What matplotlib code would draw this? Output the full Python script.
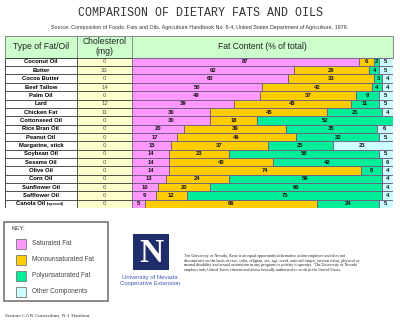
import numpy as np
import matplotlib.pyplot as plt
from matplotlib.patches import Rectangle

fats = ["Coconut Oil", "Butter", "Cocoa Butter", "Beef Tallow", "Palm Oil", "Lard",
        "Chicken Fat", "Cottonseed Oil", "Rice Bran Oil", "Peanut Oil", "Margarine, stick",
        "Soybean Oil", "Sesame Oil", "Olive Oil", "Corn Oil", "Sunflower Oil",
        "Safflower Oil", "Canola Oil"]
cholesterol = [0, 33, 0, 14, 0, 12, 11, 0, 0, 0, 0, 0, 0, 0, 0, 0, 0, 0]
saturated = [87, 62, 60, 50, 49, 39, 30, 30, 20, 17, 15, 14, 14, 14, 13, 10, 9, 5]
mono = [6, 29, 33, 42, 37, 45, 45, 18, 39, 46, 37, 23, 40, 74, 24, 20, 12, 66]
poly = [2, 4, 3, 4, 9, 11, 21, 52, 35, 32, 25, 58, 42, 8, 59, 66, 75, 24]
other = [5, 5, 4, 4, 5, 5, 4, 0, 6, 5, 23, 5, 6, 4, 4, 4, 4, 5]

series = [saturated, mono, poly, other]
names = ["Saturated Fat", "Monounsaturated Fat", "Polyunsaturated Fat", "Other Components"]
colors = ["#ff99ff", "#ffcc00", "#00ee99", "#ccffff"]

W, H = 400, 323
fig = plt.figure(figsize=(4, 3.23), dpi=100)

# overlay in pixel coords
ov = fig.add_axes([0, 0, 1, 1])
ov.set_xlim(0, W)
ov.set_ylim(H, 0)
ov.axis("off")

x0, xc1, xc2, x1 = 5, 76.7, 132.3, 392.5
hy0, ty0, ty1 = 36, 57.8, 208.1

ov.text(200, 13, "COMPARISON OF DIETARY FATS AND OILS", family="Liberation Mono",
        fontsize=8.4, color="#333333", ha="center", va="center")
ov.text(200, 27, "Source: Composition of Foods: Fats and Oils, Agriculture Handbook No. 8-4, "
        "United States Department of Agriculture, 1979.", fontsize=3.9, color="#333333",
        ha="center", va="center", family="Liberation Sans")

# header
ov.add_patch(Rectangle((x0, hy0), x1 - x0, ty0 - hy0, facecolor="#ccffcc",
                       edgecolor="#888888", lw=0.7, zorder=1))
for xv in (xc1, xc2):
    ov.plot([xv, xv], [hy0, ty0], color="#888888", lw=0.7)
hfont = dict(family="Liberation Sans", fontsize=6.2, color="#222222", va="center", ha="center")
ov.text((x0 + xc1) / 2, (hy0 + ty0) / 2, "Type of Fat/Oil", **hfont)
ov.text((xc1 + xc2) / 2, 42, "Cholesterol", **hfont)
ov.text((xc1 + xc2) / 2, 51.5, "(mg)", **hfont)
ov.text((xc2 + x1) / 2, (hy0 + ty0) / 2, "Fat Content (% of total)", **hfont)

n = len(fats)
y = np.arange(n)
pos_b = (ty0 - 0) / H
frame = [None, (H - ty1) / H, None, (ty1 - ty0) / H]

# text columns
tx = fig.add_axes([x0 / W, frame[1], (xc2 - x0) / W, frame[3]])
tx.set_xlim(x0, xc2)
tx.set_ylim(n - 0.5, -0.5)
tx.axis("off")
tx.axvspan(xc1, xc2, color="#ffffcc", zorder=0)
tx.hlines(np.arange(n + 1) - 0.5, x0, xc2, color="#333333", lw=0.6)
tx.vlines([x0, xc1], -0.5, n - 0.5, color="#333333", lw=0.6)
for i, name in enumerate(fats):
    if name == "Canola Oil":
        tx.text(45.5, i, name, ha="right", va="center", fontsize=4.2, weight="bold",
                family="Liberation Sans")
        tx.text(46.5, i + 0.05, "(rapeseed)", ha="left", va="center", fontsize=2.4,
                weight="bold", family="Liberation Sans")
    else:
        tx.text((x0 + xc1) / 2, i, name, ha="center", va="center", fontsize=4.2,
                weight="bold", family="Liberation Sans")
    tx.text((xc1 + xc2) / 2, i, str(cholesterol[i]), ha="center", va="center",
            fontsize=4.3, color="#555555", family="Liberation Sans")

# bars
bx = fig.add_axes([xc2 / W, frame[1], (x1 - xc2) / W, frame[3]])
bx.set_xlim(0, 100)
bx.set_ylim(n - 0.5, -0.5)
bx.axis("off")
left = np.zeros(n)
for vals, col in zip(series, colors):
    vals = np.array(vals, dtype=float)
    bars = bx.barh(y, vals, left=left, height=1.0, color=col, edgecolor="#6a5a80", lw=0.6)
    bx.bar_label(bars, labels=[str(int(v)) if v > 0 else "" for v in vals],
                 label_type="center", fontsize=4.2, weight="bold", color="#111111",
                 family="Liberation Sans")
    left += vals

# key box
ov.add_patch(Rectangle((4, 221.7), 104, 79, facecolor="white", edgecolor="#808080", lw=1.3))
ov.text(12, 228.5, "KEY:", fontsize=4.5, color="#333333", va="center", family="Liberation Sans")
for k, (nm, col) in enumerate(zip(names, colors)):
    yy = 243.5 + k * 16
    ov.add_patch(Rectangle((16, yy - 5), 10, 10, facecolor=col, edgecolor="#777777", lw=0.6))
    ov.text(32, yy, nm, fontsize=4.7, color="#444444", va="center", family="Liberation Sans")

# logo
ov.add_patch(Rectangle((133, 234), 36, 36, facecolor="#1f2d6b", edgecolor="none"))
ov.text(151, 253, "N", family="Liberation Serif", weight="bold", fontsize=24,
        color="white", ha="center", va="center")
ov.text(150, 278, "University of Nevada", fontsize=4.3, color="#3a5bb0", ha="center",
        va="center", family="Liberation Sans")
ov.text(150, 284, "Cooperative Extension", fontsize=4.3, color="#3a5bb0", ha="center",
        va="center", family="Liberation Sans")

disclaimer = [
    "The University of Nevada, Reno is an equal opportunity/affirmative action employer and does not",
    "discriminate on the basis of race, color, religion, sex, age, creed, national origin, veteran status, physical or",
    "mental disability and sexual orientation in any program or activity it operates.  The University of Nevada",
    "employs only United States citizens and aliens lawfully authorized to work in the United States.",
]
for k, line in enumerate(disclaimer):
    ov.text(184, 256 + k * 4.5, line, fontsize=3.0, color="#222222", va="center",
            family="Liberation Serif")

ov.text(5, 315.7, "Seniors CAN Curriculum, N-1 Handout", fontsize=3.8, color="#333333",
        va="center", family="Liberation Serif")

fig.savefig("out.png", dpi=100)
